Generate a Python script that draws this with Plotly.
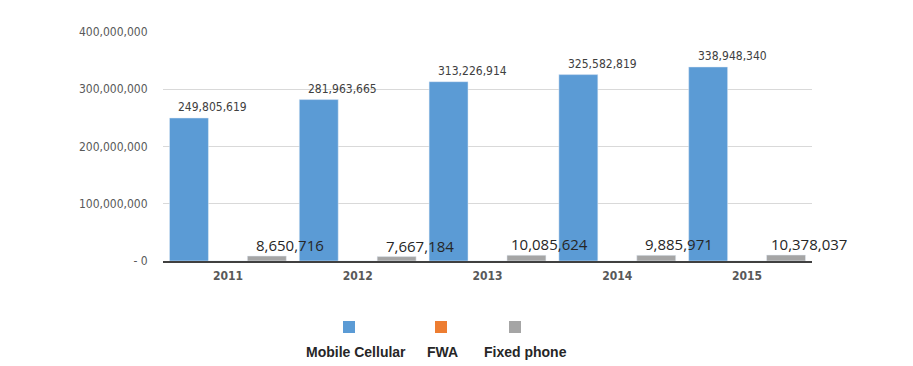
import plotly.graph_objects as go

years = ["2011", "2012", "2013", "2014", "2015"]
mobile = [249805619, 281963665, 313226914, 325582819, 338948340]
fwa = [0, 0, 0, 0, 0]
fixed = [8650716, 7667184, 10085624, 9885971, 10378037]
series_names = ["Mobile Cellular", "FWA", "Fixed phone"]
colors = ["#5B9BD5", "#ED7D31", "#A5A5A5"]
ytick_vals = [0, 100000000, 200000000, 300000000, 400000000]
ytick_text = ["- 0", "100,000,000", "200,000,000", "300,000,000", "400,000,000"]

fig = go.Figure()
for name, vals, col in zip(series_names, [mobile, fwa, fixed], colors):
    fig.add_trace(go.Bar(x=list(years), y=list(vals), name=name,
                         marker=dict(color=col), showlegend=False))

narrow = "Liberation Sans Narrow, DejaVu Sans Condensed, Arial Narrow, sans-serif"

# value labels; x given as category index (numeric strings would be read as positions)
for i, v in enumerate(mobile):
    fig.add_annotation(x=i, y=v, text=f"{v:,}", showarrow=False,
                       xshift=-15, yshift=11, yanchor="middle",
                       font=dict(family=narrow, size=12, color="#404040"))
for i, v in enumerate(fixed):
    fig.add_annotation(x=i, y=v, text=f"{v:,}", showarrow=False,
                       xshift=62, yshift=11, yanchor="middle",
                       font=dict(family="Open Sans, sans-serif", size=15, color="#262626"))

# custom legend: square above label
W_PLOT = 649.0
H_PLOT = 229.0
legend_text_px = [356, 442, 525]
legend_sq_px = [349, 441, 515]
for name, col, tx, sx in zip(series_names, colors, legend_text_px, legend_sq_px):
    xc = (sx - 163) / W_PLOT
    yc = (261 - 327) / H_PLOT
    dx = 6 / W_PLOT
    dy = 6 / H_PLOT
    fig.add_shape(type="rect", xref="paper", yref="paper",
                  x0=xc - dx, x1=xc + dx, y0=yc - dy, y1=yc + dy,
                  fillcolor=col, line=dict(width=0))
    fig.add_annotation(xref="paper", yref="paper", x=(tx - 163) / W_PLOT,
                       y=(261 - 352) / H_PLOT, text=f"<b>{name}</b>",
                       showarrow=False, xanchor="center", yanchor="middle",
                       font=dict(family="Liberation Sans, Arial, sans-serif",
                                 size=14, color="#262626"))

fig.update_layout(
    width=913, height=366,
    margin=dict(l=163, r=101, t=32, b=105, autoexpand=False),
    paper_bgcolor="white", plot_bgcolor="white",
    barmode="group", bargap=0.1,
    showlegend=False,
)
fig.update_xaxes(type="category", categoryorder="array", categoryarray=years,
                 range=[-0.5, len(years) - 0.5], automargin=False,
                 showline=True, linecolor="#404040", linewidth=2,
                 ticks="outside", ticklen=3, tickcolor="rgba(0,0,0,0)",
                 tickfont=dict(family=narrow, size=12, color="#595959", weight="bold"),
                 showgrid=False)
fig.update_yaxes(range=[0, 400000000], tickvals=ytick_vals, ticktext=ytick_text,
                 automargin=False,
                 showgrid=True, gridcolor="#D9D9D9", gridwidth=1,
                 zeroline=False,
                 ticks="outside", ticklen=12, tickcolor="rgba(0,0,0,0)",
                 tickfont=dict(family=narrow, size=12, color="#595959"))

fig.write_html("out.html", config={"displayModeBar": False},
               post_script="document.body.style.margin='0';")
